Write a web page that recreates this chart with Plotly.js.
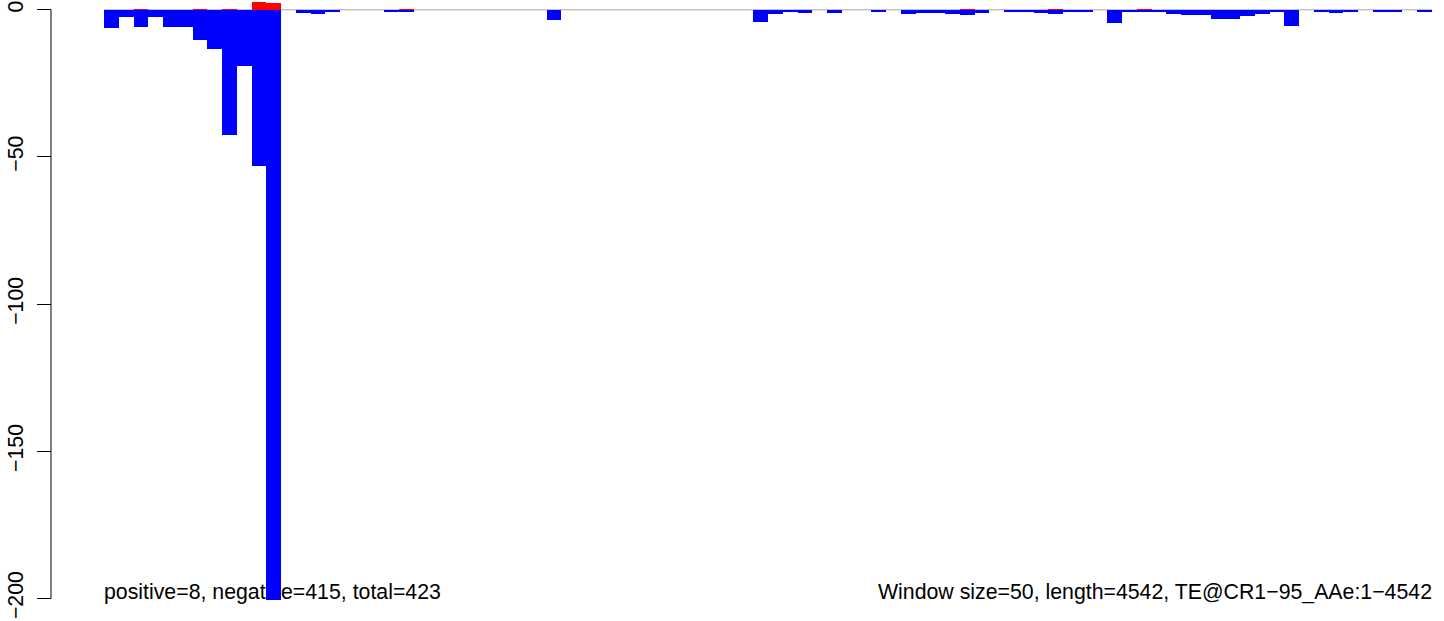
<!DOCTYPE html>
<html>
<head>
<meta charset="utf-8">
<script src="https://cdn.plot.ly/plotly-3.0.1.min.js"></script>
<style>html,body{margin:0;padding:0;background:#fff;}#chart{width:1444px;height:621px;}</style>
</head>
<body>
<div id="chart"></div>
<script>
// Window index (0..89), each window = 50 bp
const windowIndex = Array.from({length: 90}, (_, i) => i);

// Negative-strand coverage per window (blue)
const negativeValues = [
  -6.1, -2.3, -5.7, -2.3, -5.7, -5.7, -10.2, -13.2, -42.4, -19.0,
  -53.1, -200.5, 0, -1.0, -1.3, -0.7, 0, 0, 0, -0.7,
  -0.7, 0, 0, 0, 0, 0, 0, 0, 0, 0,
  -3.35, 0, 0, 0, 0, 0, 0, 0, 0, 0,
  0, 0, 0, 0, -4.0, -1.3, -0.7, -1.0, 0, -1.0,
  0, 0, -0.6, 0, -1.3, -1.0, -1.0, -1.3, -1.65, -1.0,
  0, -0.6, -0.6, -1.0, -1.3, -0.6, -0.6, 0, -4.4, -0.6,
  -0.6, -0.6, -1.3, -1.65, -1.65, -3.0, -3.0, -2.0, -1.3, -0.6,
  -5.4, 0, -0.6, -1.0, -0.6, 0, -0.6, -0.6, 0, -0.6
];

// Positive-strand coverage per window (red)
const positiveValues = [
  0, 0, 0.35, 0, 0, 0, 0.35, 0, 0.35, 0,
  2.65, 2.3, 0, 0, 0, 0, 0, 0, 0, 0,
  0.35, 0, 0, 0, 0, 0, 0, 0, 0, 0,
  0, 0, 0, 0, 0, 0, 0, 0, 0, 0,
  0, 0, 0, 0, 0, 0, 0, 0, 0, 0,
  0, 0, 0, 0, 0, 0, 0, 0, 0.35, 0,
  0, 0, 0, 0, 0.35, 0, 0, 0, 0, 0,
  0.35, 0, 0, 0, 0, 0, 0, 0, 0, 0,
  0, 0, 0, 0, 0, 0, 0, 0, 0, 0
];

// Y axis ticks
const yTickValues = [0, -50, -100, -150, -200];
const yTickLabels = ["0", "\u221250", "\u2212100", "\u2212150", "\u2212200"];

// Footer texts
const leftLabel = "positive=8, negative=415, total=423";
const rightLabel = "Window size=50, length=4542, TE@CR1\u221295_AAe:1\u22124542";

const FONT = "Liberation Sans, Arial, Helvetica, sans-serif";
const xCenters = windowIndex.map(i => i + 0.5);
const nWin = windowIndex.length;

// y mapping: 0 at px 9.8, 2.9425 px per unit, plot height 621
const pxPerUnit = 2.9425;
const yTop = 9.8 / pxPerUnit;
const yBottom = -(621 - 9.8) / pxPerUnit;
const yRange = [yBottom, yTop];
const textY = -(593.5 - 9.8) / pxPerUnit;

const traces = [
  {
    type: 'scatter', mode: 'text', xaxis: 'x', yaxis: 'y',
    x: [0], y: [textY], text: [leftLabel], textposition: 'middle right',
    textfont: {family: FONT, size: 21.3, color: '#000'}, hoverinfo: 'skip', showlegend: false, cliponaxis: false
  },
  {
    type: 'scatter', mode: 'text', xaxis: 'x', yaxis: 'y',
    x: [nWin], y: [textY], text: [rightLabel], textposition: 'middle left',
    textfont: {family: FONT, size: 21.3, color: '#000'}, hoverinfo: 'skip', showlegend: false, cliponaxis: false
  },
  {
    type: 'bar', xaxis: 'x2', yaxis: 'y2',
    x: xCenters, y: negativeValues, width: 1,
    marker: {color: '#0000FF', line: {width: 0}}, showlegend: false
  },
  {
    type: 'bar', xaxis: 'x2', yaxis: 'y2',
    x: xCenters, y: positiveValues, width: 1,
    marker: {color: '#FF0000', line: {width: 0}}, showlegend: false
  }
];

const layout = {
  width: 1444, height: 621,
  margin: {l: 51, r: 12, t: 0, b: 0, pad: 0},
  paper_bgcolor: '#fff', plot_bgcolor: 'rgba(0,0,0,0)',
  barmode: 'overlay', bargap: 0,
  showlegend: false,
  xaxis: {domain: [53/1381, 1], range: [0, nWin], visible: false, fixedrange: true},
  yaxis: {
    anchor: 'free', position: 0, range: yRange,
    tickvals: yTickValues, ticktext: yTickLabels,
    ticks: 'outside', ticklen: 14, tickwidth: 1, tickcolor: '#000',
    ticklabelstandoff: 5,
    tickangle: -90, tickfont: {family: FONT, size: 21.3, color: '#000'},
    showline: false, showgrid: false, zeroline: false, fixedrange: true
  },
  xaxis2: {overlaying: 'x', range: [0, nWin], visible: false, fixedrange: true},
  yaxis2: {overlaying: 'y', range: yRange, visible: false, fixedrange: true},
  shapes: [
    {type: 'line', xref: 'paper', yref: 'y', x0: 0, x1: 0, y0: 0, y1: -200,
     line: {color: '#000', width: 1}},
    {type: 'line', xref: 'x', yref: 'y', x0: 0, x1: nWin, y0: 0, y1: 0,
     layer: 'below', line: {color: '#A8A8A8', width: 1}}
  ]
};

Plotly.newPlot('chart', traces, layout, {staticPlot: true, displayModeBar: false});
</script>
</body>
</html>
